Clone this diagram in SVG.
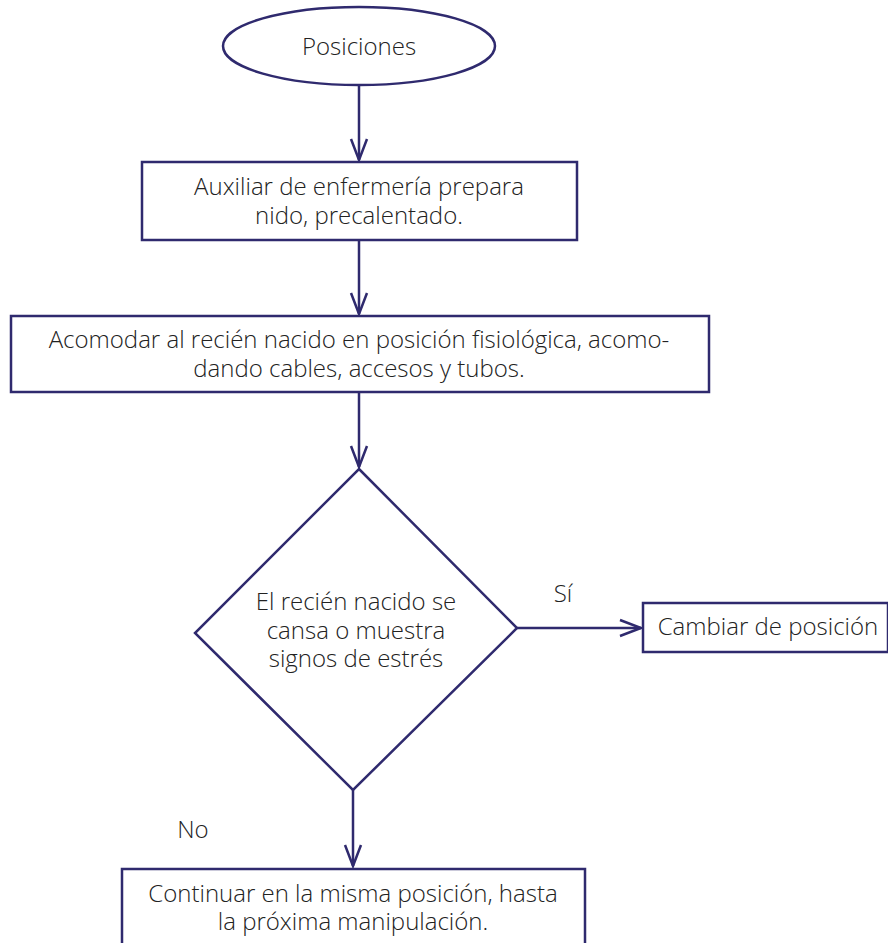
<svg xmlns="http://www.w3.org/2000/svg" width="888" height="943" viewBox="0 0 888 943">
<style>
.s{fill:#fff;stroke:#2f2a6e;stroke-width:2.5}
.c{fill:none;stroke:#2f2a6e;stroke-width:2.5}
.a{fill:none;stroke:#2f2a6e;stroke-width:2.5;stroke-linejoin:miter}
text{font-family:"Open Sans","Noto Sans","Liberation Sans",sans-serif;font-weight:300;font-size:24px;fill:#222;text-anchor:middle}
</style>
<rect width="888" height="943" fill="#fff"/>
<g id="connectors">
<line class="c" x1="359" y1="85" x2="359" y2="160"/>
<polyline class="a" points="351,139 359,160 367,139"/>
<line class="c" x1="359" y1="240" x2="359" y2="314"/>
<polyline class="a" points="351,293 359,314 367,293"/>
<line class="c" x1="359" y1="392" x2="359" y2="467"/>
<polyline class="a" points="351,446 359,467 367,446"/>
<line class="c" x1="517" y1="628" x2="641" y2="628"/>
<polyline class="a" points="620,620 641,628 620,636"/>
<line class="c" x1="353" y1="790" x2="353" y2="866"/>
<polyline class="a" points="345,845 353,866 361,845"/>
<text x="563" y="602">Sí</text>
<text x="193" y="838">No</text>
</g>
<g id="start">
<ellipse class="s" cx="359" cy="46" rx="136" ry="39"/>
<text x="359" y="55">Posiciones</text>
</g>
<g id="prepare">
<rect class="s" x="142" y="162" width="435" height="78"/>
<text x="359" y="195">Auxiliar de enfermería prepara</text>
<text x="359" y="224">nido, precalentado.</text>
</g>
<g id="accommodate">
<rect class="s" x="11" y="316" width="698" height="76"/>
<text x="359" y="348">Acomodar al recién nacido en posición fisiológica, acomo-</text>
<text x="359" y="377">dando cables, accesos y tubos.</text>
</g>
<g id="decision">
<polygon class="s" points="359,469 517,628 353,790 195,633"/>
<text x="356" y="610">El recién nacido se</text>
<text x="356" y="639">cansa o muestra</text>
<text x="356" y="667">signos de estrés</text>
</g>
<g id="change">
<rect class="s" x="643" y="603" width="245" height="49"/>
<text x="768" y="635">Cambiar de posición</text>
</g>
<g id="continue">
<rect class="s" x="122" y="869" width="463" height="90"/>
<text x="353" y="902">Continuar en la misma posición, hasta</text>
<text x="353" y="930">la próxima manipulación.</text>
</g>
</svg>
